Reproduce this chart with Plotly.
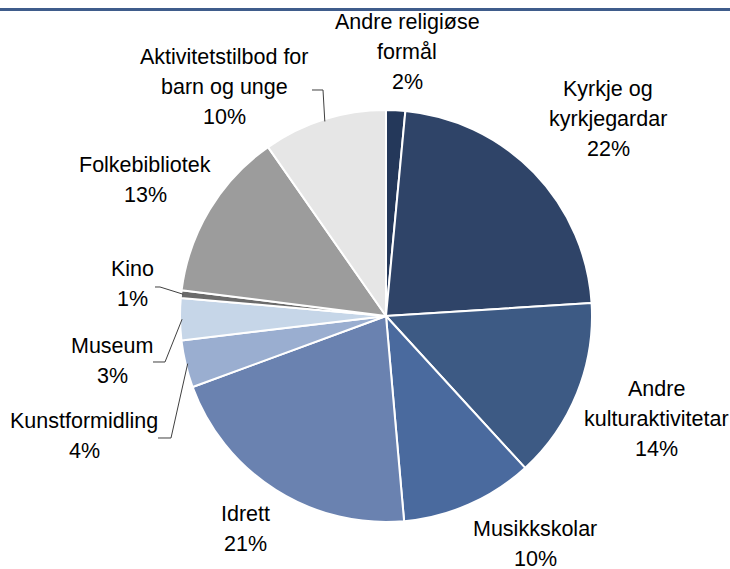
import math

import plotly.graph_objects as go

W, H = 730, 569

# slice data, clockwise from 12 o'clock
categories = [
    "Andre religiøse formål",
    "Kyrkje og kyrkjegardar",
    "Andre kulturaktivitetar",
    "Musikkskolar",
    "Idrett",
    "Kunstformidling",
    "Museum",
    "Kino",
    "Folkebibliotek",
    "Aktivitetstilbod for barn og unge",
]
shares = [1.5, 22.5, 14.2, 10.4, 20.8, 3.7, 3.3, 0.6, 13.3, 9.7]
pct_labels = ["2%", "22%", "14%", "10%", "21%", "4%", "3%", "1%", "13%", "10%"]
label_lines = [
    ["Andre religiøse", "formål"],
    ["Kyrkje og", "kyrkjegardar"],
    ["Andre", "kulturaktivitetar"],
    ["Musikkskolar"],
    ["Idrett"],
    ["Kunstformidling"],
    ["Museum"],
    ["Kino"],
    ["Folkebibliotek"],
    ["Aktivitetstilbod for", "barn og unge"],
]
colors = [
    "#24385a", "#2f4468", "#3d5a84", "#4a6a9e", "#6a82b0",
    "#9aaed0", "#c6d6e8", "#6b6b6b", "#9c9c9c", "#e6e6e6",
]

# label placement in pixels: centre x, y of first line
label_pos = [
    (407, 22), (608, 89), (656, 389), (535, 529), (245, 514),
    (84, 421), (112, 346), (132, 269), (145, 165), (224, 57),
]
LINE_GAP = 30

# leader lines: label-side points, pie end comes from the slice angle
leaders = {
    9: [(312, 90), (323, 90)],
    7: [(155, 287), (160, 287)],
    6: [(153, 362), (165, 362)],
    5: [(158, 438), (171, 438)],
}

CX, CY, R = 386, 316, 206


def px(x):
    return x / W


def py(y):
    return 1 - y / H


fig = go.Figure(
    go.Pie(
        labels=categories,
        values=shares,
        sort=False,
        direction="clockwise",
        rotation=0,
        marker=dict(colors=colors, line=dict(color="white", width=2)),
        textinfo="none",
        hoverinfo="label+percent",
        domain=dict(x=[px(CX - R), px(CX + R)], y=[py(CY + R), py(CY - R)]),
        showlegend=False,
    )
)

annotations = []
for lines, pct, (x, y0) in zip(label_lines, pct_labels, label_pos):
    for i, txt in enumerate(lines + [pct]):
        annotations.append(dict(
            x=px(x), y=py(y0 + i * LINE_GAP), xref="paper", yref="paper",
            text=txt, showarrow=False, xanchor="center", yanchor="middle",
            font=dict(family="Liberation Sans, Arial", size=21.5, color="#000000"),
        ))

shapes = [dict(type="line", xref="paper", yref="paper", x0=0, x1=1,
               y0=py(9.5), y1=py(9.5), line=dict(color="#3f5c8b", width=3))]

total = sum(shares)
cum = 0
mids = []
for v in shares:
    mids.append((cum + v / 2) / total * 2 * math.pi)
    cum += v

for idx, pts in leaders.items():
    a = mids[idx]
    ex = CX + R * 0.99 * math.sin(a)
    ey = CY - R * 0.99 * math.cos(a)
    path_pts = pts + [(ex, ey)]
    d = "M " + " L ".join(f"{px(x):.5f},{py(y):.5f}" for x, y in path_pts)
    shapes.append(dict(type="path", xref="paper", yref="paper", path=d,
                       line=dict(color="#404040", width=1)))

fig.update_layout(
    width=W, height=H,
    margin=dict(l=0, r=0, t=0, b=0),
    paper_bgcolor="white",
    plot_bgcolor="white",
    annotations=annotations,
    shapes=shapes,
)

fig.write_html(
    "out.html",
    config={"displayModeBar": False},
    post_script="document.body.style.margin='0px';",
)
